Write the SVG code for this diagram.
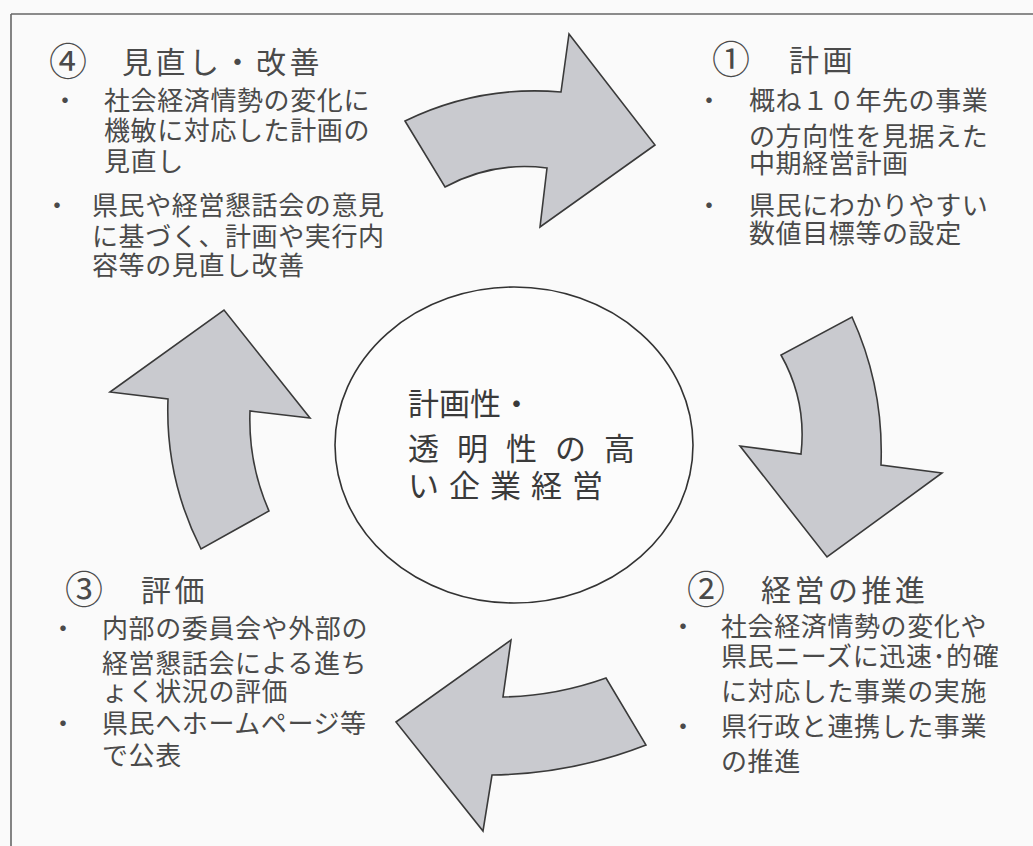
<svg xmlns="http://www.w3.org/2000/svg" width="1033" height="846" viewBox="0 0 1033 846">
<style>
.t{font-family:"Noto Sans CJK JP","Noto Sans",sans-serif;fill:#4a4a4a;}
.h{font-size:30px;letter-spacing:3.5px;}
.n{font-size:38px;}
.b{font-size:26px;letter-spacing:0.6px;}
.bl{font-size:26px;text-anchor:middle;}
.c{font-size:31px;fill:#3a3a3a;}
.arrow{fill:#c9cacf;stroke:#3a3a3a;stroke-width:1.6;stroke-linejoin:miter;}
</style>
<rect x="0" y="0" width="1033" height="846" fill="#fafafa"/>
<g id="frame" fill="none" stroke="#666" stroke-width="1.6">
<line x1="11" y1="14" x2="1033" y2="14"/>
<line x1="11" y1="14" x2="11" y2="846"/>
</g>
<g id="connectors">
<path class="arrow" d="M405,121 Q479,85 561,92 L569,34 L655,145 L540,227 L547,168 Q493,161 445,187 Z"/>
<path class="arrow" d="M852,317 Q884,387 881,465 L942,473 L827,557 L740,446 L801,454 Q807,401 781,355 Z"/>
<path class="arrow" d="M606,678 Q556,696 503,697 L511,640 L396,722 L483,831 L492,775 Q572,774 646,745 Z"/>
<path class="arrow" d="M201,549 Q165,478 168,399 L110,392 L224,310 L310,418 L250,411 Q248,463 269,511 Z"/>
</g>
<g id="node-center">
<ellipse cx="514" cy="445" rx="179" ry="158" fill="#fcfcfc" stroke="#333" stroke-width="1.6"/>
<text class="t c" x="408" y="415" letter-spacing="0">計画性・</text>
<text class="t c" x="408" y="460" letter-spacing="18">透明性の高</text>
<text class="t c" x="408" y="497" letter-spacing="10">い企業経営</text>
</g>
<g id="node-plan">
<text class="t n" x="712" y="73">①</text>
<text class="t h" x="789" y="71">計画</text>
<text class="t bl" x="709" y="110">・</text>
<text class="t b" x="749" y="110">概ね１０年先の事業</text>
<text class="t b" x="749" y="146">の方向性を見据えた</text>
<text class="t b" x="749" y="173">中期経営計画</text>
<text class="t bl" x="709" y="215">・</text>
<text class="t b" x="749" y="215">県民にわかりやすい</text>
<text class="t b" x="749" y="243">数値目標等の設定</text>
</g>
<g id="node-promote">
<text class="t n" x="687" y="603">②</text>
<text class="t h" x="761" y="601">経営の推進</text>
<text class="t bl" x="683" y="636">・</text>
<text class="t b" x="721" y="636">社会経済情勢の変化や</text>
<text class="t b" x="721" y="666">県民ニーズに迅速･的確</text>
<text class="t b" x="721" y="701">に対応した事業の実施</text>
<text class="t bl" x="683" y="736">・</text>
<text class="t b" x="721" y="736">県行政と連携した事業</text>
<text class="t b" x="721" y="771">の推進</text>
</g>
<g id="node-eval">
<text class="t n" x="65" y="603">③</text>
<text class="t h" x="141" y="601">評価</text>
<text class="t bl" x="63" y="638">・</text>
<text class="t b" x="102" y="638">内部の委員会や外部の</text>
<text class="t b" x="102" y="673">経営懇話会による進ち</text>
<text class="t b" x="102" y="701">ょく状況の評価</text>
<text class="t bl" x="63" y="733">・</text>
<text class="t b" x="102" y="733">県民へホームページ等</text>
<text class="t b" x="102" y="765">で公表</text>
</g>
<g id="node-review">
<text class="t n" x="49" y="75">④</text>
<text class="t h" x="122" y="73">見直し・改善</text>
<text class="t bl" x="65" y="110">・</text>
<text class="t b" x="104" y="110">社会経済情勢の変化に</text>
<text class="t b" x="104" y="140">機敏に対応した計画の</text>
<text class="t b" x="104" y="171">見直し</text>
<text class="t bl" x="57" y="215">・</text>
<text class="t b" x="92" y="215">県民や経営懇話会の意見</text>
<text class="t b" x="92" y="246">に基づく、計画や実行内</text>
<text class="t b" x="92" y="275">容等の見直し改善</text>
</g>
</svg>
